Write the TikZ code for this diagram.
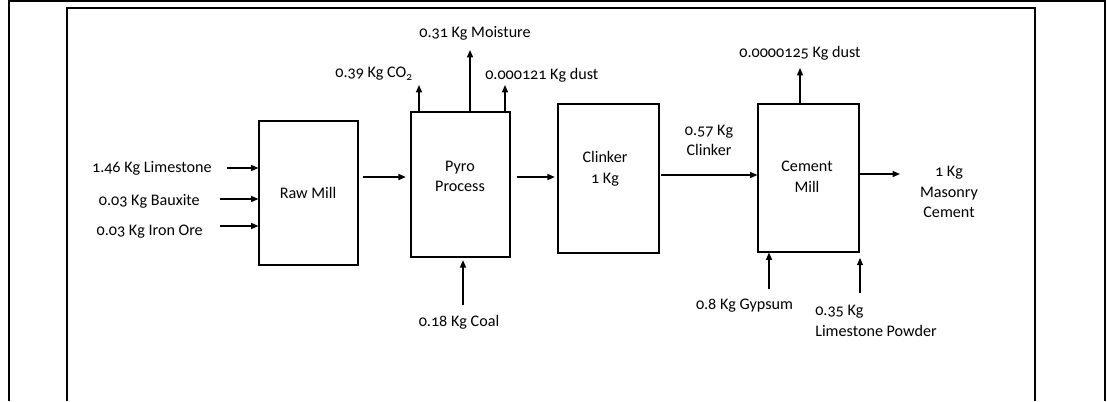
\documentclass[tikz,border=0pt]{standalone}
\usepackage{fontspec}
\setmainfont{Carlito}[Numbers=OldStyle]
\usetikzlibrary{arrows.meta, positioning}

\begin{document}
\begin{tikzpicture}[
  x=0.75pt, y=-0.75pt,
  >={Triangle[length=5.5pt, width=4.5pt]},
  unit/.style={draw, line width=0.8pt, inner sep=0pt},
  txt/.style={font=\fontsize{12.1}{15.4}\selectfont, inner sep=0pt, align=center},
  flow/.style={->, line width=1pt},
]
\useasboundingbox (0,0) rectangle (1107,401);

% --- Page frames ---
\draw[line width=1.6pt] (9,401) -- (9,1) -- (1105,1) -- (1105,401);
\draw[line width=1pt] (67,401) -- (67,8) -- (1035,8) -- (1035,401);

% --- Process units ---
\node[unit, minimum width=74.25pt, minimum height=108pt]   (raw)     at (308.5,193)   {};
\node[unit, minimum width=74.25pt, minimum height=108.75pt] (pyro)   at (460.5,184.5) {};
\node[unit, minimum width=75.75pt, minimum height=111.75pt] (clinker) at (608.5,178.5) {};
\node[unit, minimum width=75.75pt, minimum height=111pt]   (cement)  at (808.5,178)   {};

\node[txt] (rawT)     at (308,193)   {Raw Mill};
\node[txt] (pyroT)    at (460,176.5) {Pyro\\Process};
\node[txt] (clinkerT) at (605,169)   {Clinker\\1 Kg};
\node[txt] (cementT)  at (807,176.5) {Cement\\Mill};

% --- Raw materials ---
\node[txt, anchor=east] (lime) at (212,168) {1.46 Kg Limestone};
\node[txt, anchor=east] (baux) at (200,201) {0.03 Kg Bauxite};
\node[txt, anchor=east] (iron) at (203,232) {0.03 Kg Iron Ore};
\coordinate (limeS) at (227,168);
\coordinate (bauxS) at (220,199);
\coordinate (ironS) at (220,226);
\draw[flow] (limeS) -- (limeS -| raw.west);
\draw[flow] (bauxS) -- (bauxS -| raw.west);
\draw[flow] (ironS) -- (ironS -| raw.west);

% --- Main line ---
\coordinate (mainA) at (0,177);
\coordinate (mainB) at (0,175);
\draw[flow, shorten <=3pt, shorten >=3.5pt] (raw.east |- mainA) -- (pyro.west |- mainA);
\draw[flow, shorten <=4.5pt, shorten >=2pt] (pyro.east |- mainA) -- (clinker.west |- mainA);
\draw[flow, shorten <=1pt] (clinker.east |- mainB) -- (cement.west |- mainB);
\node[txt] (clinkerL) at (709,140.5) {0.57 Kg\\Clinker};

% --- Pyro process emissions ---
\coordinate (co2E)   at (419,85);
\coordinate (moistE) at (470,50);
\coordinate (dustE)  at (505,85);
\draw[flow] (co2E |- pyro.north) -- (co2E);
\draw[flow] (moistE |- pyro.north) -- (moistE);
\draw[flow] (dustE |- pyro.north) -- (dustE);
\node[txt, anchor=east] (co2)   at (413,74) {0.39 Kg CO\textsubscript{2}};
\node[txt]              (moist) at (475,33) {0.31 Kg Moisture};
\node[txt, anchor=west] (dust)  at (485,75) {0.000121 Kg dust};

% --- Fuel ---
\coordinate (coalS) at (463,305);
\draw[flow, shorten >=2pt] (coalS) -- (coalS |- pyro.south);
\node[txt] (coal) at (459,322) {0.18 Kg Coal};

% --- Cement mill ---
\coordinate (dust2E) at (800,68);
\draw[flow] (dust2E |- cement.north) -- (dust2E);
\node[txt] (dust2) at (800,53) {0.0000125 Kg dust};

\coordinate (gypS) at (769,289);
\coordinate (lspS) at (860,293);
\draw[flow] (gypS) -- (gypS |- cement.south);
\draw[flow, shorten >=4pt] (lspS) -- (lspS |- cement.south);
\node[txt]                         (gyp) at (744.5,306) {0.8 Kg Gypsum};
\node[txt, anchor=west, align=left] (lsp) at (815,321)   {0.35 Kg\\Limestone Powder};

% --- Product ---
\coordinate (outE) at (900,174);
\draw[flow] (cement.east |- outE) -- (outE);
\node[txt] (out) at (949,192) {1 Kg\\Masonry\\Cement};

\end{tikzpicture}
\end{document}
